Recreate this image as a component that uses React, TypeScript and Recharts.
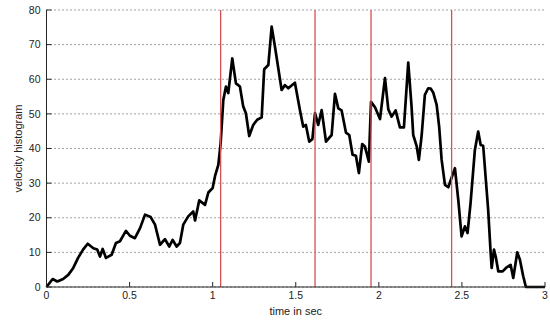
import { LineChart, Line, XAxis, YAxis, CartesianGrid, ReferenceLine } from 'recharts'

// time axis (sec) and histogram value
const times = [
  0, 0.037, 0.065, 0.1, 0.131, 0.161, 0.19, 0.22, 0.248, 0.282,
  0.305, 0.322, 0.338, 0.358, 0.392, 0.418, 0.442, 0.478, 0.502, 0.532,
  0.563, 0.593, 0.627, 0.653, 0.683, 0.713, 0.739, 0.759, 0.783, 0.803,
  0.823, 0.853, 0.883, 0.894, 0.919, 0.954, 0.974, 1.0, 1.014, 1.034,
  1.048, 1.064, 1.08, 1.094, 1.118, 1.14, 1.164, 1.184, 1.2, 1.22,
  1.244, 1.268, 1.295, 1.31, 1.335, 1.355, 1.375, 1.415, 1.435, 1.455,
  1.495, 1.525, 1.545, 1.561, 1.581, 1.6, 1.616, 1.635, 1.656, 1.682,
  1.716, 1.736, 1.756, 1.776, 1.802, 1.822, 1.842, 1.862, 1.88, 1.9,
  1.916, 1.94, 1.953, 1.977, 2.007, 2.037, 2.057, 2.077, 2.101, 2.127,
  2.151, 2.177, 2.197, 2.207, 2.228, 2.241, 2.258, 2.277, 2.297, 2.312,
  2.327, 2.348, 2.363, 2.378, 2.398, 2.418, 2.444, 2.458, 2.478, 2.498,
  2.518, 2.534, 2.552, 2.578, 2.598, 2.613, 2.628, 2.644, 2.658, 2.673,
  2.679, 2.693, 2.705, 2.719, 2.745, 2.765, 2.793, 2.809, 2.833, 2.849,
  2.869, 2.885, 3.0,
]
const velocity = [
  0, 2.3, 1.6, 2.3, 3.5, 5.5, 8.4, 10.8, 12.5, 11.2,
  10.8, 8.8, 11, 8.4, 9.3, 12.7, 13.2, 16.2, 14.8, 14.1,
  17, 20.9, 20.2, 18, 12.2, 13.8, 11.7, 13.6, 11.7, 12.7,
  18, 20.4, 21.8, 19.2, 25, 23.7, 27.3, 28.6, 32, 35.3,
  41.5, 54, 57.9, 56, 66, 58.8, 57.9, 52.1, 50.2, 43.6,
  46.8, 48.3, 49, 62.9, 64.1, 75.2, 69.4, 56.9, 58.3, 57.4,
  59, 51.1, 46.3, 46.8, 42, 42.7, 50.2, 46.8, 51.1, 42,
  43.9, 55.8, 51.6, 51, 44.6, 43.9, 38.2, 37.9, 32.9, 41.3,
  40.6, 36.2, 53.5, 51.9, 48.5, 60.3, 51.3, 49.2, 51, 46.1,
  46.1, 64.8, 52.1, 43.9, 40.6, 36.7, 43.9, 55.5, 57.4, 57.3,
  56.2, 52.6, 46.3, 36.7, 29.5, 28.8, 32.4, 34.3, 25.2, 14.6,
  17.5, 15.6, 24.2, 39.6, 44.9, 41, 40.8, 30.9, 22.3, 9.8,
  5.5, 10.8, 8.4, 4.5, 4.5, 5.5, 6.4, 2.6, 10, 7.9,
  3.1, 0, 0,
]
const segmentBounds = [1.048, 1.616, 1.953, 2.438]
const xTicks = [0, 0.5, 1, 1.5, 2, 2.5, 3]
const yTicks = [0, 10, 20, 30, 40, 50, 60, 70, 80]

const data = times.map((t, i) => ({ t, v: velocity[i] }))

const FONT = '"Liberation Sans", Arial, Helvetica, sans-serif'
const AXIS = '#262626'
const GAP = 4

const BottomTick = (props: any) => {
  const { x, y, payload } = props
  const axisY = y - GAP
  return (
    <g>
      <line x1={x} x2={x} y1={axisY} y2={axisY - 5} stroke={AXIS} />
      <text x={x} y={axisY + 12} textAnchor="middle" fontSize={10.5} fill="#222" fontFamily={FONT}>
        {payload.value}
      </text>
    </g>
  )
}

const TopTick = (props: any) => {
  const { x, y } = props
  return <line x1={x} x2={x} y1={y} y2={y + 5} stroke={AXIS} />
}

const LeftTick = (props: any) => {
  const { x, y, payload } = props
  const axisX = x + GAP
  return (
    <g>
      <line x1={axisX} x2={axisX + 5} y1={y} y2={y} stroke={AXIS} />
      <text x={axisX - 6} y={y} dy="0.35em" textAnchor="end" fontSize={10.5} fill="#222" fontFamily={FONT}>
        {payload.value}
      </text>
    </g>
  )
}

const RightTick = (props: any) => {
  const { x, y } = props
  return <line x1={x} x2={x - 5} y1={y} y2={y} stroke={AXIS} />
}

export default function App() {
  return (
    <div style={{ position: 'absolute', left: 0, top: 0, background: '#fff' }}>
      <LineChart width={550} height={320} data={data} margin={{ top: 10, right: 5, bottom: 0, left: 0 }}>
        <CartesianGrid vertical={false} stroke="#444" strokeDasharray="1 3" />
        <XAxis
          dataKey="t"
          type="number"
          domain={[0, 3]}
          ticks={xTicks}
          interval={0}
          height={33}
          tickSize={0}
          tickMargin={GAP}
          tickLine={false}
          axisLine={{ stroke: AXIS }}
          tick={<BottomTick />}
          label={{ value: 'time in sec', position: 'insideBottom', offset: 5, fontSize: 11, fill: '#222', fontFamily: FONT }}
        />
        <XAxis
          xAxisId="top"
          orientation="top"
          type="number"
          domain={[0, 3]}
          ticks={xTicks}
          interval={0}
          height={0}
          tickSize={0}
          tickMargin={0}
          tickLine={false}
          axisLine={{ stroke: AXIS }}
          tick={<TopTick />}
        />
        <YAxis
          type="number"
          domain={[0, 80]}
          ticks={yTicks}
          interval={0}
          width={46.5}
          tickSize={0}
          tickMargin={GAP}
          tickLine={false}
          axisLine={{ stroke: AXIS }}
          tick={<LeftTick />}
          label={{
            value: 'velocity histogram',
            angle: -90,
            position: 'insideLeft',
            offset: 18,
            fontSize: 11,
            fill: '#222',
            fontFamily: FONT,
            style: { textAnchor: 'middle' },
          }}
        />
        <YAxis
          yAxisId="right"
          orientation="right"
          type="number"
          domain={[0, 80]}
          ticks={yTicks}
          interval={0}
          width={0}
          tickSize={0}
          tickMargin={0}
          tickLine={false}
          axisLine={{ stroke: AXIS }}
          tick={<RightTick />}
        />
        <Line
          type="linear"
          dataKey="v"
          stroke="#000"
          strokeWidth={2.7}
          strokeLinejoin="round"
          dot={false}
          isAnimationActive={false}
        />
        {segmentBounds.map(b => (
          <ReferenceLine key={b} x={b} stroke="#d65252" strokeWidth={1.3} />
        ))}
      </LineChart>
    </div>
  )
}
